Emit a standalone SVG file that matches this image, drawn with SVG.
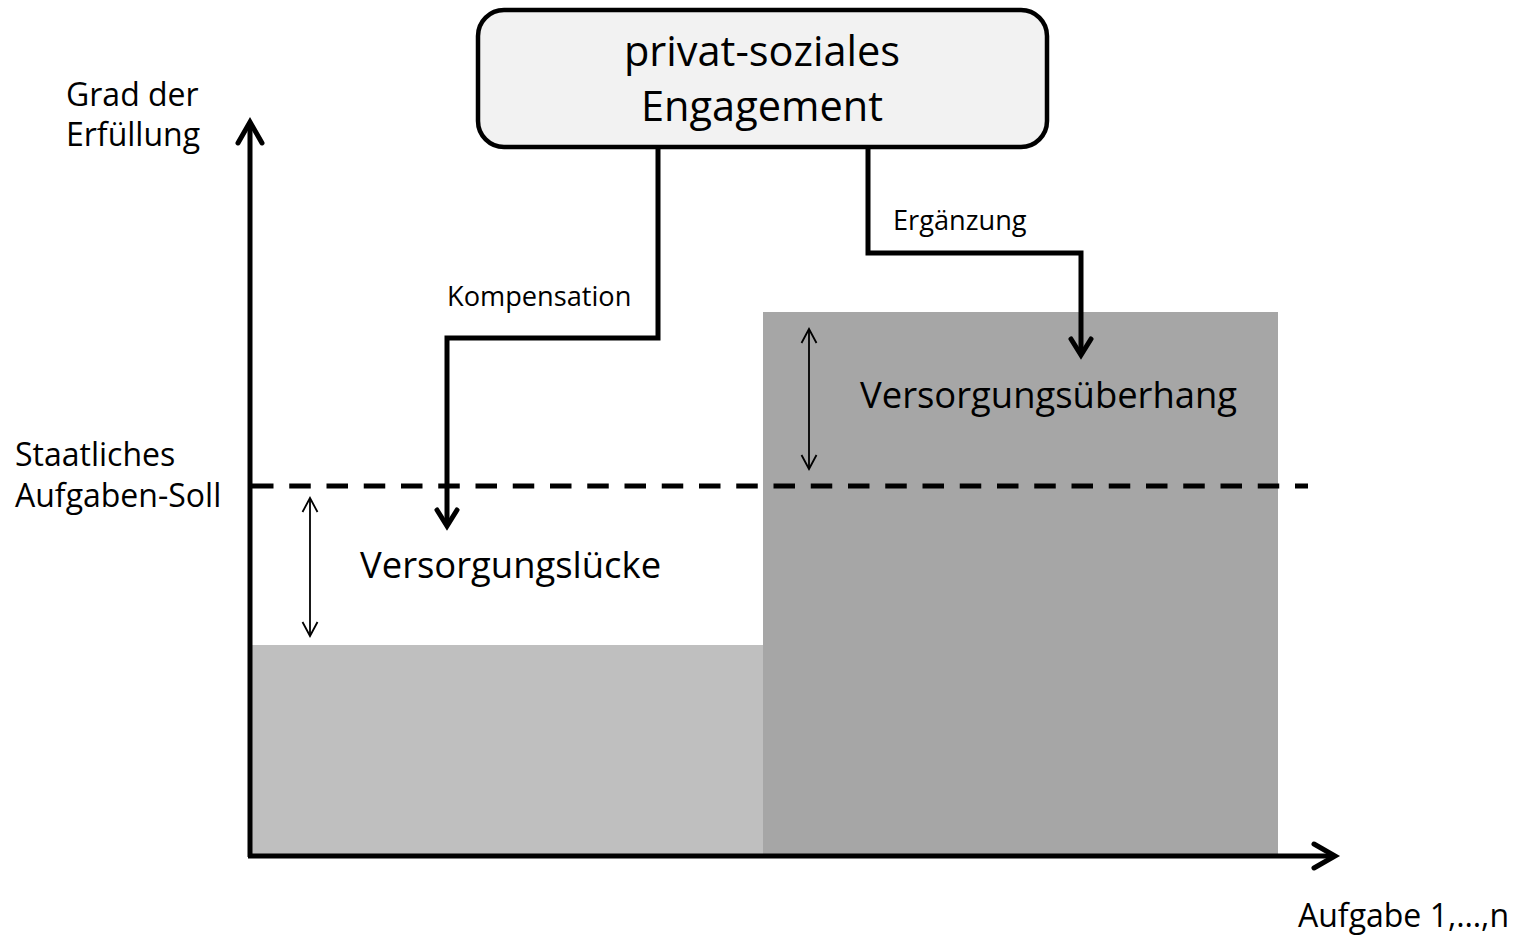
<svg xmlns="http://www.w3.org/2000/svg" width="1522" height="943" viewBox="0 0 1522 943">
<style>
text{font-family:"Open Sans","Liberation Sans",sans-serif;fill:#000}
.lbl{font-size:32px}
.big{font-size:36.4px}
.small{font-size:27.2px}
.box{font-size:41.5px}
.conn{fill:none;stroke:#000;stroke-width:5;stroke-linejoin:miter}
.thin{fill:none;stroke:#000;stroke-width:1.8}
</style>
<defs>
<marker id="axisHead" markerUnits="userSpaceOnUse" markerWidth="40" markerHeight="40" refX="0" refY="0" viewBox="-30 -20 40 40" orient="auto" overflow="visible">
<path d="M-21,-12 L0,0 L-21,12" fill="none" stroke="#000" stroke-width="5" stroke-linecap="round" stroke-linejoin="miter"/>
</marker>
<marker id="connHead" markerUnits="userSpaceOnUse" markerWidth="40" markerHeight="40" refX="0" refY="0" viewBox="-30 -20 40 40" orient="auto" overflow="visible">
<path d="M-16,-10 L0,0 L-16,10" fill="none" stroke="#000" stroke-width="5" stroke-linecap="round" stroke-linejoin="miter"/>
</marker>
<marker id="thinHead" markerUnits="userSpaceOnUse" markerWidth="30" markerHeight="30" refX="0" refY="0" viewBox="-20 -15 30 30" orient="auto-start-reverse" overflow="visible">
<path d="M-14,-7.5 L0,0 L-14,7.5" fill="none" stroke="#000" stroke-width="1.8"/>
</marker>
</defs>
<rect width="1522" height="943" fill="#fff"/>
<g id="bars">
<rect x="252" y="645" width="511" height="210" fill="#bfbfbf"/>
<rect x="763" y="312" width="515" height="543" fill="#a6a6a6"/>
</g>
<g id="soll-line">
<line x1="252" y1="486" x2="1308" y2="486" stroke="#000" stroke-width="5" stroke-dasharray="21.5 15.75"/>
</g>
<g id="axes">
<line x1="250" y1="857" x2="250" y2="122" stroke="#000" stroke-width="5" marker-end="url(#axisHead)"/>
<line x1="248" y1="856" x2="1335" y2="856" stroke="#000" stroke-width="5" marker-end="url(#axisHead)"/>
</g>
<g id="engagement">
<rect x="478" y="10" width="569" height="137" rx="26" ry="26" fill="#f2f2f2" stroke="#000" stroke-width="4.5"/>
<text class="box" x="762" y="66" text-anchor="middle">privat-soziales</text>
<text class="box" x="762" y="121" text-anchor="middle">Engagement</text>
</g>
<g id="connectors">
<polyline class="conn" points="658,148 658,338 447,338 447,526" marker-end="url(#connHead)"/>
<polyline class="conn" points="868,148 868,253 1081,253 1081,355" marker-end="url(#connHead)"/>
<line class="thin" x1="310" y1="498" x2="310" y2="636" marker-start="url(#thinHead)" marker-end="url(#thinHead)"/>
<line class="thin" x1="809" y1="329" x2="809" y2="469" marker-start="url(#thinHead)" marker-end="url(#thinHead)"/>
</g>
<g id="labels">
<text class="lbl" x="66" y="106">Grad der</text>
<text class="lbl" x="66" y="146">Erfüllung</text>
<text class="lbl" x="15" y="466">Staatliches</text>
<text class="lbl" x="15" y="507">Aufgaben-Soll</text>
<text class="small" x="447" y="306">Kompensation</text>
<text class="small" x="893" y="230">Ergänzung</text>
<text class="big" x="360" y="578">Versorgungslücke</text>
<text class="big" x="860" y="408">Versorgungsüberhang</text>
<text class="lbl" x="1298" y="927">Aufgabe 1,…,n</text>
</g>
</svg>
